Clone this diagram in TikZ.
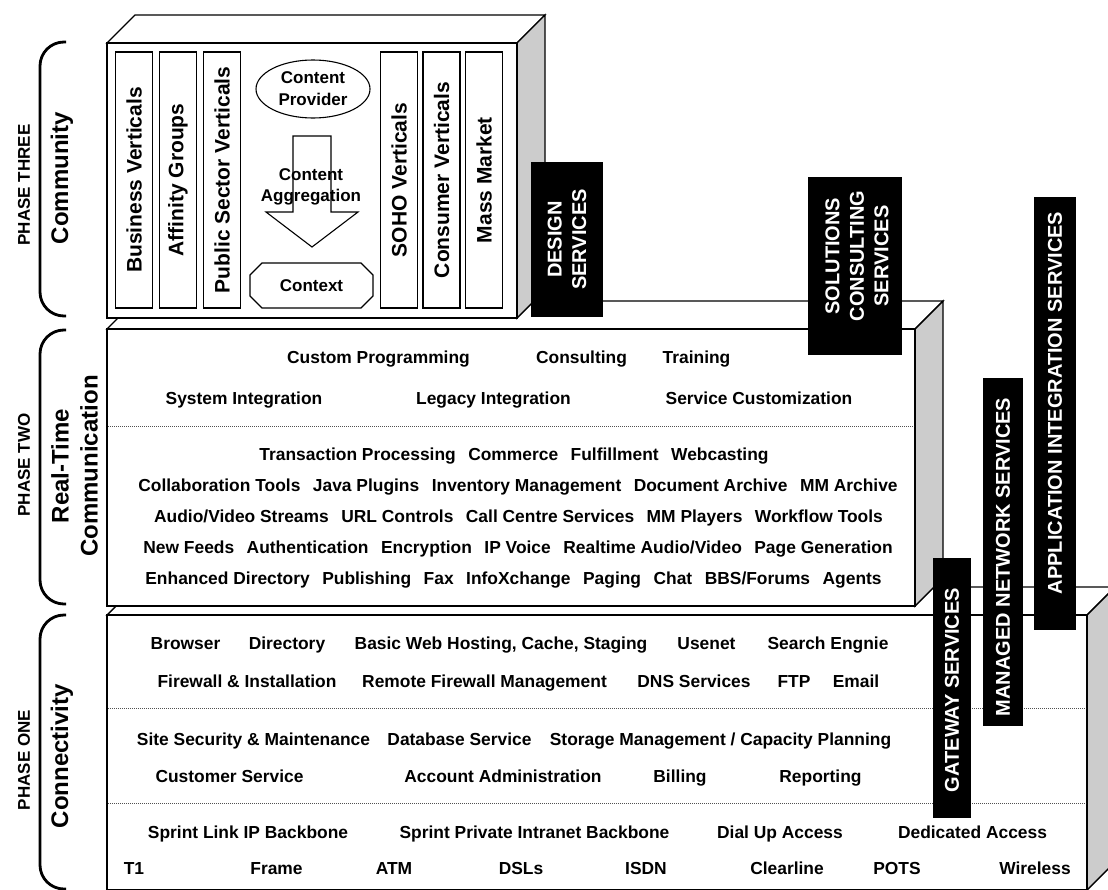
\documentclass[tikz,border=0pt]{standalone}
\usepackage{fontspec}
\setmainfont{Liberation Sans}
\usetikzlibrary{shapes.geometric}
\definecolor{sidegray}{RGB}{204,204,204}
\definecolor{dotgray}{RGB}{80,80,80}
\newcommand\dgfont[2]{\fontsize{#1}{#2}\selectfont\bfseries}
\newcommand\gap{\hspace{12.5pt}}

\begin{document}
\begin{tikzpicture}[x=1pt,y=-1pt,
  face/.style={draw=black, line width=1.4pt, fill=white, line join=miter},
  sideface/.style={face, fill=sidegray},
  sepline/.style={line width=0.7pt, dotgray, dash pattern=on 0.8pt off 1.2pt},
  item/.style={anchor=base, inner sep=0pt, font=\dgfont{17.4}{21}},
  vcell/.style={draw, line width=1.1pt, fill=white, rotate=90, minimum height=37pt, inner sep=0pt, font=\dgfont{21}{25}},
  svcbox/.style={fill=black, draw=none, inner sep=0pt},
  svclabel/.style={rotate=90, text=white, align=center, inner sep=0pt, font=\dgfont{20}{24.5}},
  phase/.style={rotate=90, inner sep=0pt, font=\dgfont{17}{20}},
  stage/.style={rotate=90, inner sep=0pt, align=center, font=\dgfont{24}{29}},
  brace/.style={line width=2.8pt, rounded corners=24pt},
  shapeline/.style={line width=1.1pt, fill=white},
]
\useasboundingbox (0,0) rectangle (1108,889);
\clip (0,0) rectangle (1108,889);

% ---- Phase one block (bottom) ----
\draw[face] (107,615) -- (135,587) -- (1115,587) -- (1087,615) -- cycle;
\draw[sideface] (1087,615) -- (1115,587) -- (1115,862) -- (1087,890) -- cycle;
\draw[face] (107,615) rectangle (1087,890);
\draw[sepline] (108,708) -- (1086,708);
\draw[sepline] (108,803) -- (1086,803);

% ---- Phase two block (middle) ----
\draw[face] (107,329) -- (135,301) -- (943,301) -- (915,329) -- cycle;
\draw[sideface] (915,329) -- (943,301) -- (943,578) -- (915,606) -- cycle;
\draw[face] (107,329) rectangle (915,606);
\draw[sepline] (108,426) -- (914,426);

% ---- Phase three block (top) ----
\draw[face] (107,43) -- (135,15) -- (545,15) -- (517,43) -- cycle;
\draw[sideface] (517,43) -- (545,15) -- (545,290) -- (517,318) -- cycle;
\draw[face] (107,43) rectangle (517,318);

% ---- brackets and phase captions ----
\draw[brace] (66,42) -- (40,42) -- (40,316) -- (66,316);
\draw[brace] (66,330) -- (40,330) -- (40,604) -- (66,604);
\draw[brace] (66,615) -- (40,615) -- (40,889) -- (66,889);

\node[phase] (p3) at (24,185) {PHASE THREE};
\node[stage] (s3) at (62,178) {Community};
\node[phase] (p2) at (24,465) {PHASE TWO};
\node[stage] (s2) at (74.5,466) {Real-Time\\Communication};
\node[phase] (p1) at (24,760) {PHASE ONE};
\node[stage] (s1) at (62,756) {Connectivity};

% ---- community block contents ----
\node[vcell, minimum width=256pt] (bv) at (134,180) {Business Verticals};
\node[vcell, minimum width=256pt] (ag) at (178,180) {Affinity Groups};
\node[vcell, minimum width=256pt] (ps) at (222,180) {Public Sector Verticals};
\node[vcell, minimum width=256pt] (soho) at (399,180) {SOHO Verticals};
\node[vcell, minimum width=256pt] (cv) at (441.5,180) {Consumer Verticals};
\node[vcell, minimum width=256pt] (mm) at (484,180) {Mass Market};

\node[draw, ellipse, line width=1.1pt, minimum width=114pt, minimum height=58pt,
      inner sep=0pt, align=center, font=\dgfont{17}{22}] (cp) at (313,89) {Content\\Provider};
\draw[shapeline] (293,136) -- (331,136) -- (331,212) -- (358,212) -- (312,247)
      -- (266,212) -- (293,212) -- cycle;
\node[align=center, inner sep=0pt, font=\dgfont{17}{21.5}] (agg) at (311,187) {Content\\Aggregation};
\draw[shapeline] (262,263) -- (361,263) -- (373,275) -- (373,296) -- (361,308)
      -- (262,308) -- (250,296) -- (250,275) -- cycle;
\node[inner sep=0pt, font=\dgfont{17}{21}] (ctx) at (311.5,286) {Context};

% ---- real-time communication block contents ----
\node[item] (cprog) at (378.5,363) {Custom Programming};
\node[item] (cons) at (581.5,363) {Consulting};
\node[item] (train) at (696.5,363) {Training};
\node[item] (sysint) at (244,404) {System Integration};
\node[item] (legint) at (493.5,404) {Legacy Integration};
\node[item] (svccust) at (759,404) {Service Customization};

\node[item] (rta) at (514,460) {Transaction Processing\gap Commerce\gap Fulfillment\gap Webcasting};
\node[item] (rtb) at (518,491) {Collaboration Tools\gap Java Plugins\gap Inventory Management\gap Document Archive\gap MM Archive};
\node[item] (rtc) at (518.5,522) {Audio/Video Streams\gap URL Controls\gap Call Centre Services\gap MM Players\gap Workflow Tools};
\node[item] (rtd) at (518,553) {New Feeds\gap Authentication\gap Encryption\gap IP Voice\gap Realtime Audio/Video\gap Page Generation};
\node[item] (rte) at (513.5,584) {Enhanced Directory\gap Publishing\gap Fax\gap InfoXchange\gap Paging\gap Chat\gap BBS/Forums\gap Agents};

% ---- connectivity block contents ----
\node[item] (browser) at (185.5,649) {Browser};
\node[item] (dir) at (287,649) {Directory};
\node[item] (hosting) at (501,649) {Basic Web Hosting, Cache, Staging};
\node[item] (usenet) at (706.5,649) {Usenet};
\node[item] (search) at (828,649) {Search Engnie};

\node[item] (fwinst) at (247,687) {Firewall \& Installation};
\node[item] (rfw) at (484.5,687) {Remote Firewall Management};
\node[item] (dns) at (694,687) {DNS Services};
\node[item] (ftp) at (794,687) {FTP};
\node[item] (email) at (856,687) {Email};

\node[item] (sitesec) at (253.5,745) {Site Security \& Maintenance};
\node[item] (db) at (459.5,745) {Database Service};
\node[item] (storage) at (720.5,745) {Storage Management / Capacity Planning};

\node[item] (custsvc) at (229.5,782) {Customer Service};
\node[item] (acct) at (503,782) {Account Administration};
\node[item] (billing) at (680,782) {Billing};
\node[item] (report) at (820.5,782) {Reporting};

\node[item] (slink) at (248,838) {Sprint Link IP Backbone};
\node[item] (spriv) at (534.5,838) {Sprint Private Intranet Backbone};
\node[item] (dialup) at (780,838) {Dial Up Access};
\node[item] (dedic) at (972.5,838) {Dedicated Access};

\node[item] (t1) at (134,874) {T1};
\node[item] (frame) at (276.5,874) {Frame};
\node[item] (atm) at (394,874) {ATM};
\node[item] (dsl) at (521,874) {DSLs};
\node[item] (isdn) at (646,874) {ISDN};
\node[item] (clear) at (787,874) {Clearline};
\node[item] (pots) at (897,874) {POTS};
\node[item] (wireless) at (1035,874) {Wireless};

% ---- service bars ----
\node[svcbox, minimum width=72pt, minimum height=155pt] (design) at (567,239.5) {};
\node[svclabel] (designt) at (design.center) {DESIGN\\SERVICES};
\node[svcbox, minimum width=94pt, minimum height=178pt] (solutions) at (855,266) {};
\node[svclabel] (solutionst) at (857,256) {SOLUTIONS\\CONSULTING\\SERVICES};
\node[svcbox, minimum width=42pt, minimum height=433pt] (appint) at (1055,413.5) {};
\node[svclabel] (appintt) at (1055,403) {APPLICATION INTEGRATION SERVICES};
\node[svcbox, minimum width=40pt, minimum height=348pt] (managed) at (1003,552) {};
\node[svclabel] (managedt) at (1003,557) {MANAGED NETWORK SERVICES};
\node[svcbox, minimum width=38pt, minimum height=260pt] (gateway) at (952,688) {};
\node[svclabel] (gatewayt) at (952,690) {GATEWAY SERVICES};
\end{tikzpicture}
\end{document}
